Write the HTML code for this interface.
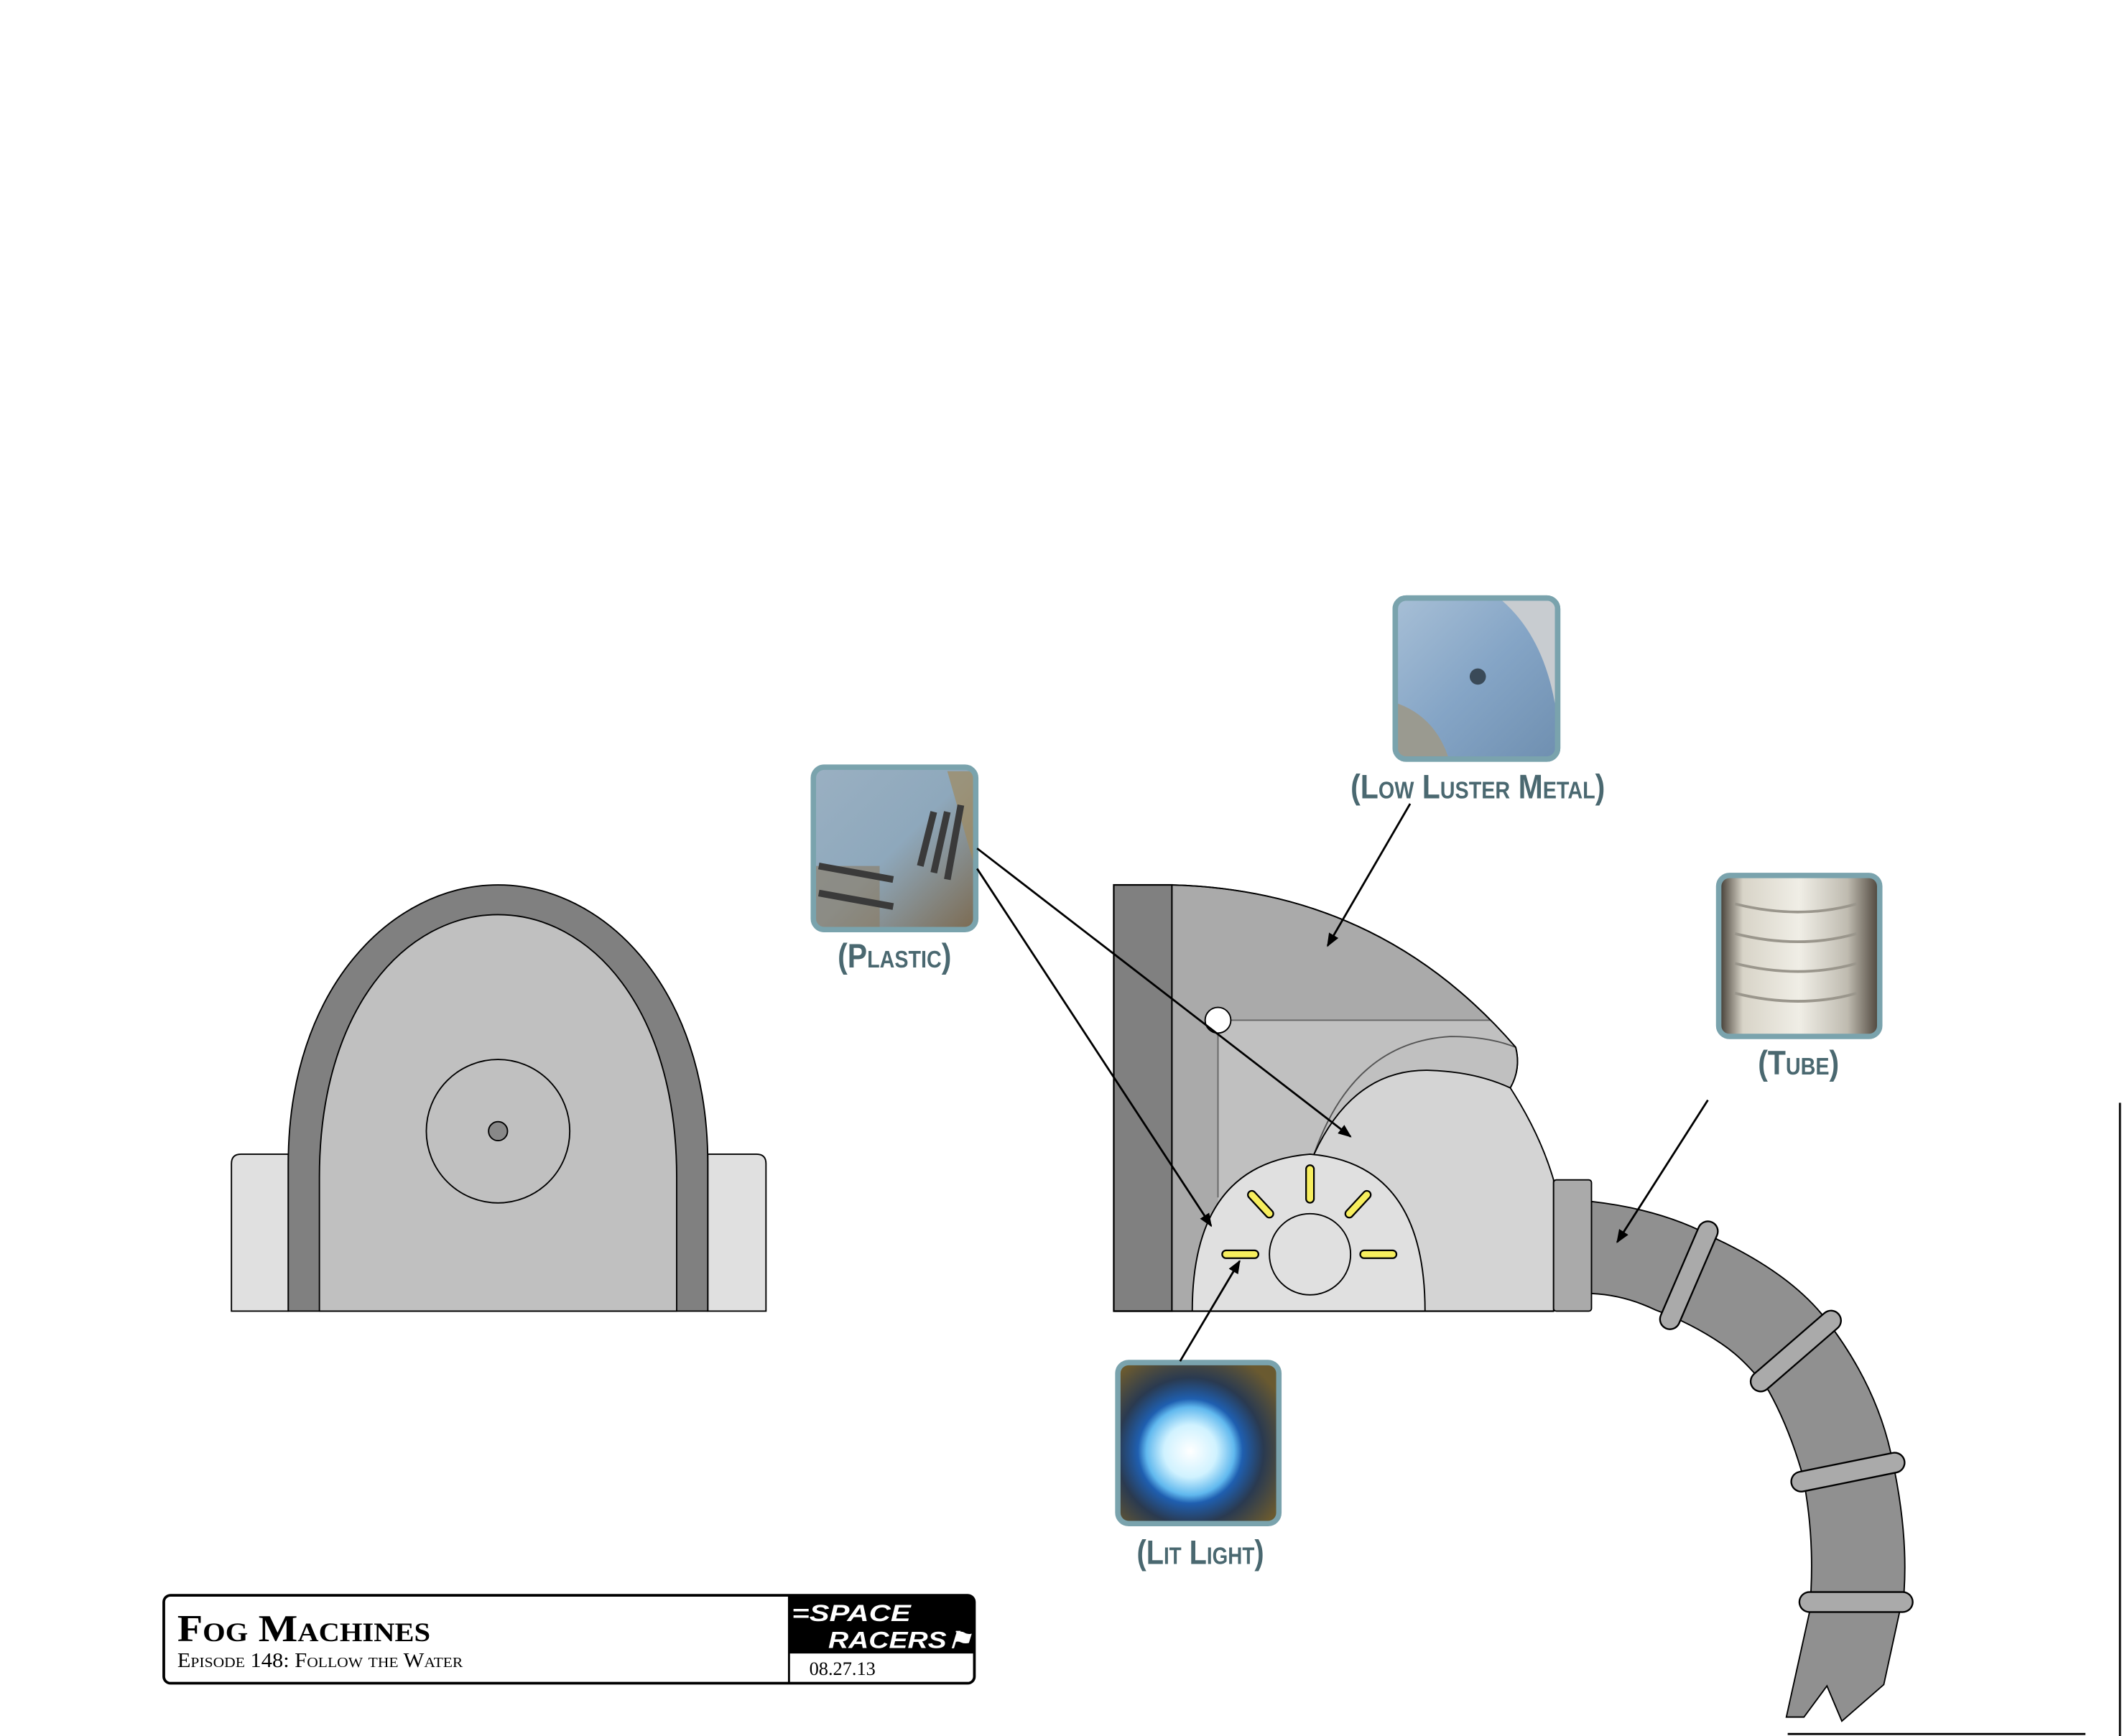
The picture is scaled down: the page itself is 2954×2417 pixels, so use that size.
<!DOCTYPE html>
<html><head><meta charset="utf-8"><style>
html,body{margin:0;padding:0;background:#fff;}
svg{display:block;}
.lbl{font-family:"Liberation Sans",sans-serif;font-weight:bold;fill:#4a6870;font-variant:small-caps;}
</style></head><body>
<svg width="2954" height="2417" viewBox="0 0 1568 1283" xmlns="http://www.w3.org/2000/svg">
<defs>
<marker id="ah" markerWidth="10" markerHeight="8" refX="9" refY="4" orient="auto" markerUnits="userSpaceOnUse">
<path d="M0,0 L10,4 L0,8 Z" fill="#000"/></marker>
<linearGradient id="gMetal" x1="0" y1="0" x2="1" y2="1"><stop offset="0" stop-color="#a7bfd6"/><stop offset="0.5" stop-color="#85a5c6"/><stop offset="1" stop-color="#6f8fb0"/></linearGradient>
<linearGradient id="gPlastic" x1="0" y1="0" x2="1" y2="1"><stop offset="0" stop-color="#9ab0c2"/><stop offset="0.5" stop-color="#8ea8bc"/><stop offset="1" stop-color="#7c6a50"/></linearGradient>
<linearGradient id="gTube" x1="0" y1="0" x2="1" y2="0"><stop offset="0" stop-color="#3a342c"/><stop offset="0.15" stop-color="#d8d4c8"/><stop offset="0.5" stop-color="#f0eee6"/><stop offset="0.8" stop-color="#bfbbb0"/><stop offset="1" stop-color="#4a4238"/></linearGradient>
<radialGradient id="gLight" cx="0.45" cy="0.55" r="0.65"><stop offset="0" stop-color="#ffffff"/><stop offset="0.25" stop-color="#d0f2ff"/><stop offset="0.42" stop-color="#60b8ee"/><stop offset="0.5" stop-color="#1f5fb0"/><stop offset="0.7" stop-color="#2a3a50"/><stop offset="1" stop-color="#6a5a30"/></radialGradient>
</defs>

<!-- Left object -->
<path d="M171,969 L171,860 Q171,853 178,853 L213,853 L213,969 Z" fill="#e0e0e0" stroke="#000" stroke-width="1"/>
<path d="M523,969 L523,853 L559,853 Q566,853 566,860 L566,969 Z" fill="#e0e0e0" stroke="#000" stroke-width="1"/>
<path d="M213,969 L213,860 C213,730 290,654 368,654 C446,654 523,730 523,860 L523,969 Z" fill="#808080" stroke="#000" stroke-width="1"/>
<path d="M236,969 L236,870 C236,745 300,676 368,676 C436,676 500,745 500,870 L500,969 Z" fill="#c0c0c0" stroke="#000" stroke-width="1"/>
<circle cx="368" cy="836" r="53" fill="none" stroke="#000" stroke-width="1"/>
<circle cx="368" cy="836" r="7" fill="#888" stroke="#000" stroke-width="1"/>

<!-- Machine -->
<rect x="823" y="654" width="43" height="315" fill="#808080" stroke="#000" stroke-width="1.2"/>
<path d="M866,654 Q1020,658 1120,774 Q1124,790 1116,804 L1148,872 L1148,969 L866,969 Z" fill="#aaaaaa" stroke="#000" stroke-width="1"/>
<path d="M900,754 L1101,754 Q1112,765 1120,774 Q1124,790 1116,804 L1148,872 L1148,969 L900,969 Z" fill="#c0c0c0"/>
<path d="M900,754 L1101,754 M900,754 L900,885" stroke="#666" stroke-width="1" fill="none"/>
<path d="M971,853 Q1000,770 1072,766 Q1100,766 1120,774" fill="none" stroke="#555" stroke-width="1"/>
<path d="M1120,774 Q1124,790 1116,804" fill="none" stroke="#000" stroke-width="1"/>
<path d="M971,853 Q1000,790 1056,791 Q1090,792 1116,804 Q1138,838 1148,872 L1148,969 L971,969 Z" fill="#d4d4d4" stroke="#000" stroke-width="1"/>
<path d="M866,654 Q1020,658 1120,774" fill="none" stroke="#000" stroke-width="1"/>
<path d="M881,969 Q881,860 968,853 Q1053,860 1053,969 Z" fill="#e0e0e0" stroke="#000" stroke-width="1"/>
<line x1="823" y1="969" x2="1148" y2="969" stroke="#000" stroke-width="1.2"/>
<circle cx="968" cy="927" r="30" fill="#e0e0e0" stroke="#000" stroke-width="1"/>
<g stroke-linecap="round">
<g stroke="#000" stroke-width="7">
<line x1="968" y1="864" x2="968" y2="886"/><line x1="925" y1="883" x2="938" y2="897"/><line x1="1010" y1="883" x2="997" y2="897"/>
<line x1="906" y1="927" x2="927" y2="927"/><line x1="1008" y1="927" x2="1029" y2="927"/></g>
<g stroke="#f7ee5e" stroke-width="4.6">
<line x1="968" y1="864" x2="968" y2="886"/><line x1="925" y1="883" x2="938" y2="897"/><line x1="1010" y1="883" x2="997" y2="897"/>
<line x1="906" y1="927" x2="927" y2="927"/><line x1="1008" y1="927" x2="1029" y2="927"/></g></g>
<circle cx="900" cy="754" r="9.5" fill="#fff" stroke="#000" stroke-width="1"/>

<!-- Tube -->
<path d="M1176,888 Q1230,894 1269,916 Q1320,940 1346,971 Q1385,1020 1397,1073 Q1410,1130 1407,1176 L1392,1245 L1361,1272 L1350,1246 L1333,1269 L1320,1269 L1337,1192 Q1342,1140 1332,1090 Q1322,1055 1307,1028 Q1290,1005 1272,993 Q1250,978 1223,968 Q1200,957 1176,956 Z" fill="#909090" stroke="#000" stroke-width="1"/>
<rect x="1148" y="872" width="28" height="97" rx="2" fill="#aaaaaa" stroke="#000" stroke-width="1"/>
<g stroke-linecap="round">
<g stroke="#000" stroke-width="16">
<line x1="1262" y1="910" x2="1234" y2="975"/><line x1="1353" y1="976" x2="1301" y2="1021"/>
<line x1="1400" y1="1081" x2="1331" y2="1095"/><line x1="1406" y1="1184" x2="1337" y2="1184"/></g>
<g stroke="#aaaaaa" stroke-width="13.5">
<line x1="1262" y1="910" x2="1234" y2="975"/><line x1="1353" y1="976" x2="1301" y2="1021"/>
<line x1="1400" y1="1081" x2="1331" y2="1095"/><line x1="1406" y1="1184" x2="1337" y2="1184"/></g></g>

<!-- border lines right-bottom -->
<line x1="1566.5" y1="815" x2="1566.5" y2="1283" stroke="#000" stroke-width="1.5"/>
<line x1="1321" y1="1281.5" x2="1541" y2="1281.5" stroke="#000" stroke-width="1.5"/>

<!-- Photos -->
<rect x="1031" y="442" width="120" height="119" rx="8" fill="url(#gMetal)" stroke="#7aa3ad" stroke-width="4"/>
<path d="M1033,520 Q1060,530 1070,559 L1033,559 Z" fill="#9a9a90"/>
<circle cx="1092" cy="500" r="6" fill="#3a4a58"/>
<path d="M1110,444 Q1140,470 1149,520 L1149,444 Z" fill="#c8ccd0"/>
<rect x="1031" y="442" width="120" height="119" rx="8" fill="none" stroke="#7aa3ad" stroke-width="4"/>

<rect x="601" y="567" width="120" height="120" rx="8" fill="url(#gPlastic)"/>
<path d="M603,640 L650,640 L650,686 L603,686 Z" fill="#8a7a60" opacity="0.6"/>
<path d="M700,570 L720,570 L720,640 Z" fill="#a08a60" opacity="0.7"/>
<g stroke="#3a3a3a" stroke-width="5"><line x1="690" y1="600" x2="680" y2="640"/><line x1="700" y1="600" x2="690" y2="645"/><line x1="710" y1="595" x2="700" y2="650"/><line x1="605" y1="640" x2="660" y2="650"/><line x1="605" y1="660" x2="660" y2="670"/></g>
<rect x="601" y="567" width="120" height="120" rx="8" fill="none" stroke="#7aa3ad" stroke-width="4"/>

<rect x="1270" y="647" width="119" height="119" rx="8" fill="url(#gTube)"/>
<g fill="none" stroke="#9a968c" stroke-width="2"><path d="M1282,668 Q1330,680 1372,668"/><path d="M1282,690 Q1330,702 1372,690"/><path d="M1282,712 Q1330,724 1372,712"/><path d="M1282,734 Q1330,746 1372,734"/></g>
<rect x="1270" y="647" width="119" height="119" rx="8" fill="none" stroke="#7aa3ad" stroke-width="4"/>

<rect x="826" y="1007" width="119" height="119" rx="8" fill="url(#gLight)"/>
<rect x="826" y="1007" width="119" height="119" rx="8" fill="none" stroke="#7aa3ad" stroke-width="4"/>

<!-- Labels -->
<text class="lbl" x="1092" y="590" font-size="25" text-anchor="middle" textLength="188" lengthAdjust="spacingAndGlyphs">(Low Luster Metal)</text>
<text class="lbl" x="661" y="715" font-size="25" text-anchor="middle" textLength="84" lengthAdjust="spacingAndGlyphs">(Plastic)</text>
<text class="lbl" x="1329" y="794" font-size="25" text-anchor="middle" textLength="60" lengthAdjust="spacingAndGlyphs">(Tube)</text>
<text class="lbl" x="887" y="1156" font-size="25" text-anchor="middle" textLength="94" lengthAdjust="spacingAndGlyphs">(Lit Light)</text>

<!-- Arrows -->
<g stroke="#000" stroke-width="1.5" marker-end="url(#ah)">
<line x1="1042" y1="594" x2="981" y2="699"/>
<line x1="722" y1="627" x2="998" y2="840"/>
<line x1="722" y1="642" x2="895" y2="906"/>
<line x1="1262" y1="813" x2="1195" y2="918"/>
<line x1="872" y1="1006" x2="916" y2="932"/>
</g>

<!-- Title block -->
<rect x="121" y="1179" width="599" height="65" rx="5" fill="#fff" stroke="#000" stroke-width="2"/>
<path d="M583,1179 L715,1179 Q720,1179 720,1184 L720,1222 L583,1222 Z" fill="#000"/>
<line x1="583" y1="1179" x2="583" y2="1244" stroke="#000" stroke-width="1.5"/>
<text x="585" y="1198" font-family="Liberation Sans,sans-serif" font-style="italic" font-weight="bold" font-size="17" fill="#fff" textLength="88" lengthAdjust="spacingAndGlyphs">=SPACE</text>
<text x="612" y="1218" font-family="Liberation Sans,sans-serif" font-style="italic" font-weight="bold" font-size="17" fill="#fff" textLength="106" lengthAdjust="spacingAndGlyphs">RACERS⚑</text>
<text x="598" y="1238" font-family="Liberation Serif,serif" font-size="14" fill="#000">08.27.13</text>
<text x="131" y="1213" font-family="Liberation Serif,serif" font-weight="bold" font-size="28" font-variant="small-caps" fill="#000" textLength="187" lengthAdjust="spacingAndGlyphs">Fog Machines</text>
<text x="131" y="1232" font-family="Liberation Serif,serif" font-size="15" font-variant="small-caps" fill="#000" textLength="211" lengthAdjust="spacingAndGlyphs">Episode 148: Follow the Water</text>
</svg>
</body></html>
